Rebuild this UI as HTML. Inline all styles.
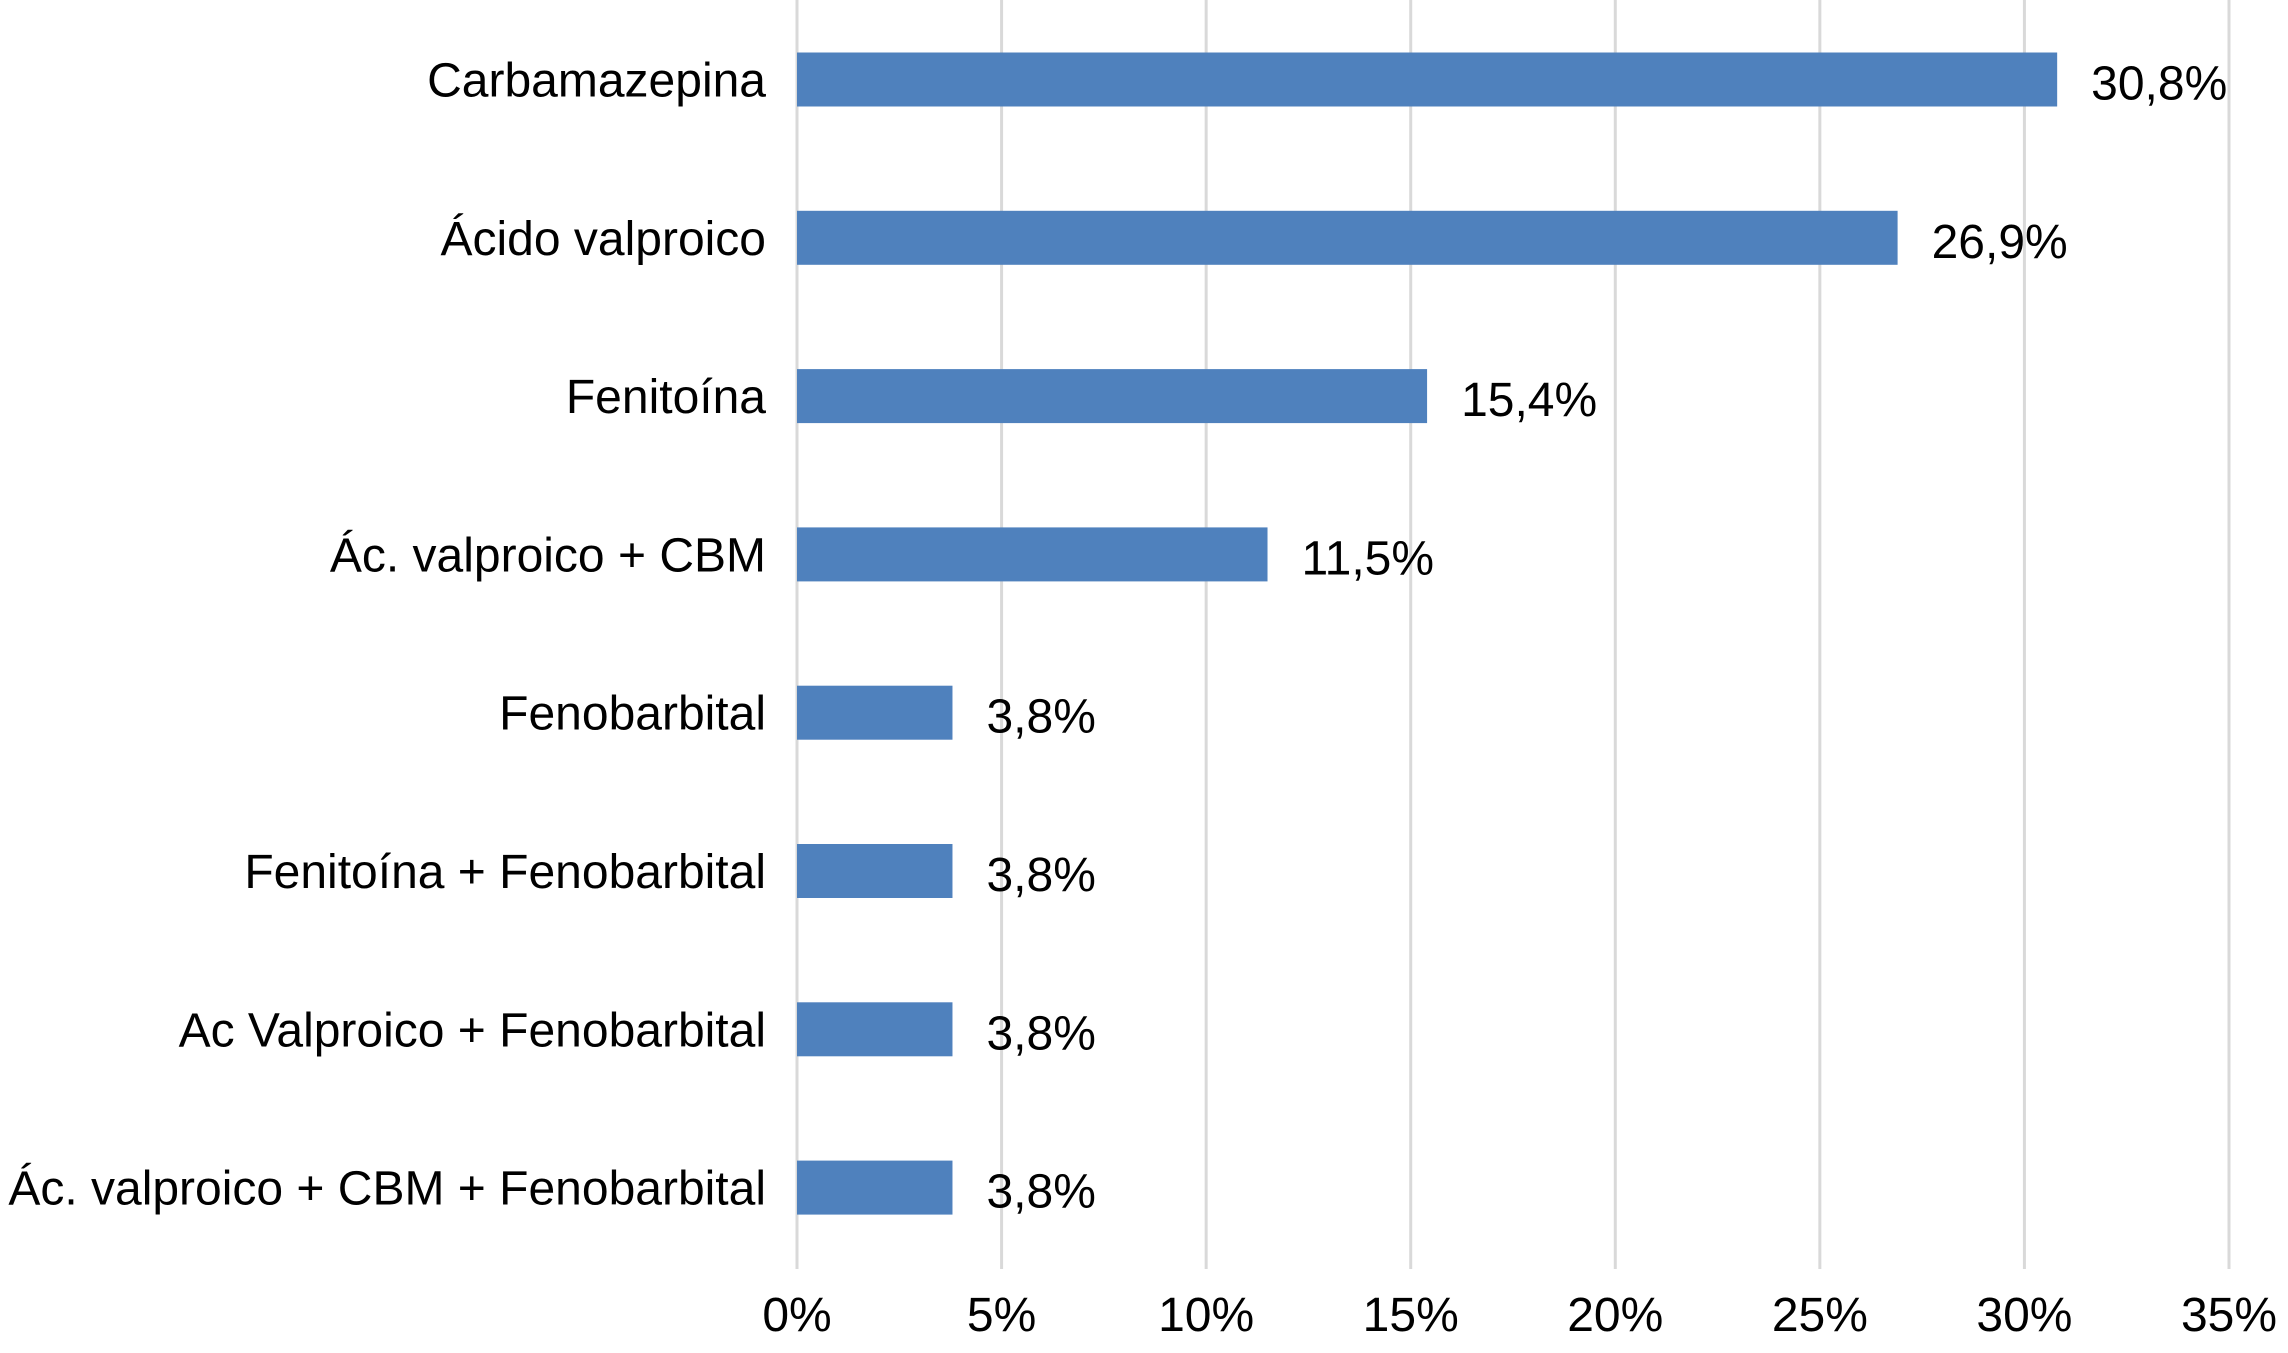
<!DOCTYPE html>
<html><head><meta charset="utf-8"><style>
html,body{margin:0;padding:0;background:#fff;}
svg{display:block;font-family:"Liberation Sans",Arial,sans-serif;}
</style></head><body>
<svg id="chart" width="2288" height="1353" viewBox="0 0 2288 1353" xmlns="http://www.w3.org/2000/svg"></svg>
<script>
const categories = ["Carbamazepina","Ácido valproico","Fenitoína","Ác. valproico + CBM","Fenobarbital","Fenitoína + Fenobarbital","Ac Valproico + Fenobarbital","Ác. valproico + CBM + Fenobarbital"];
const values = [30.8, 26.9, 15.4, 11.5, 3.8, 3.8, 3.8, 3.8];
const valueLabels = ["30,8%","26,9%","15,4%","11,5%","3,8%","3,8%","3,8%","3,8%"];
const ticks = [0,5,10,15,20,25,30,35];
const tickLabels = ["0%","5%","10%","15%","20%","25%","30%","35%"];

const svg = document.getElementById('chart');
const NS = 'http://www.w3.org/2000/svg';
const x0 = 797, pxPer = (2229-797)/35;
const xs = v => x0 + v*pxPer;
const yc = i => 79.5 + i*158.3;
const barH = 54;
function mk(tag, attrs){ const e=document.createElementNS(NS,tag); for(const k in attrs) e.setAttribute(k,attrs[k]); svg.appendChild(e); return e; }

ticks.forEach((t,i)=>{
  const g = mk('line',{x1:xs(t),x2:xs(t),y1:0,y2:1269,stroke:'#d9d9d9','stroke-width':3});
  
  
  const tl = mk('text',{x:xs(t),y:1331,'text-anchor':'middle','font-size':48,fill:'#000'});
  tl.textContent = tickLabels[i];
  
  
});

categories.forEach((c,i)=>{
  const b = mk('rect',{x:xs(0),y:yc(i)-barH/2,width:xs(values[i])-xs(0),height:barH,fill:'#4f81bd'});
  
  
  const l = mk('text',{x:766,y:yc(i)+17,'text-anchor':'end','font-size':48,fill:'#000'});
  l.textContent = c;
  
  
  const v = mk('text',{x:xs(values[i])+34,y:yc(i)+20,'font-size':48,fill:'#000'});
  v.textContent = valueLabels[i];
  
  
});
</script>
</body></html>
